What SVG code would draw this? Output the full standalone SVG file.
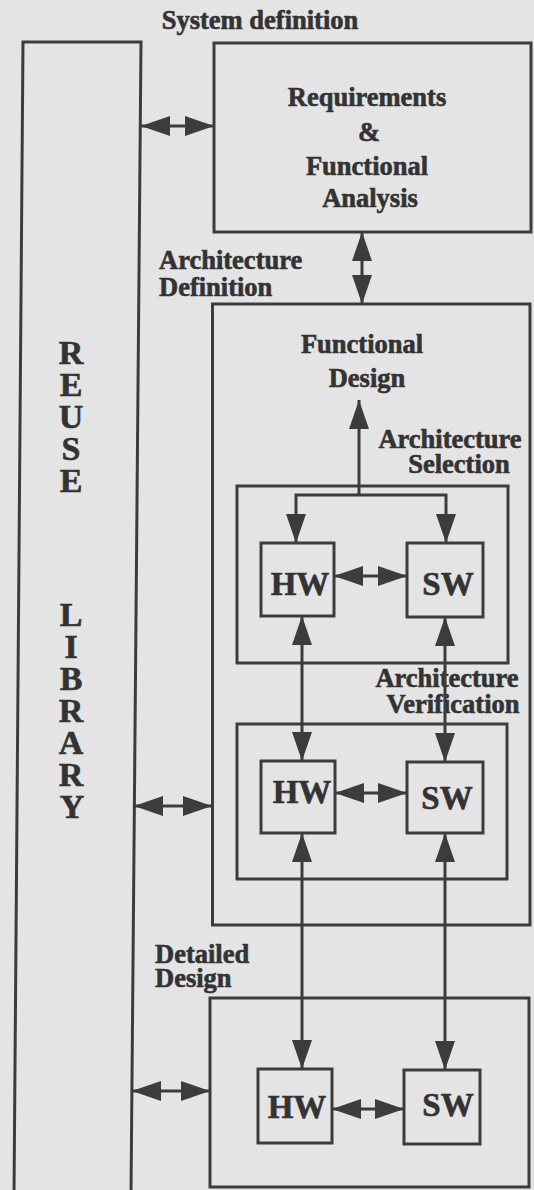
<svg xmlns="http://www.w3.org/2000/svg" width="534" height="1190" viewBox="0 0 534 1190">
<defs>
<style>
.box{fill:none;stroke:#3c3c3c;stroke-width:3}
.t{font-family:"Liberation Serif","Times New Roman",serif;font-weight:bold;fill:#333;stroke:#333;stroke-width:0.6;font-size:26.5px}
.m{text-anchor:middle}
.big{font-size:34px}
.hs{font-size:33px}
.c{fill:none;stroke:#3c3c3c;stroke-width:3}
</style>
<marker id="ah" markerUnits="userSpaceOnUse" markerWidth="30" markerHeight="20" viewBox="0 0 30 20" refX="29" refY="10" orient="auto-start-reverse">
<path d="M0,0 L29,10 L0,20 z" fill="#3c3c3c"/>
</marker>
</defs>
<rect x="0" y="0" width="534" height="1190" fill="#e4e4e4"/>

<text class="t m" x="260" y="29">System definition</text>

<g id="reuse-library">
<path class="box" d="M14,1195 L23,42 L141,42 L131,1195"/>
<text class="t m big" x="71" y="364">R</text>
<text class="t m big" x="71" y="396">E</text>
<text class="t m big" x="71" y="428">U</text>
<text class="t m big" x="71" y="460">S</text>
<text class="t m big" x="71" y="492">E</text>
<text class="t m big" x="71" y="626">L</text>
<text class="t m big" x="71" y="658">I</text>
<text class="t m big" x="71" y="690">B</text>
<text class="t m big" x="71" y="722">R</text>
<text class="t m big" x="71" y="754">A</text>
<text class="t m big" x="71" y="786">R</text>
<text class="t m big" x="72" y="818">Y</text>
</g>

<g id="requirements">
<rect class="box" x="214" y="43" width="317" height="189"/>
<text class="t m" x="367" y="106">Requirements</text>
<text class="t m" x="369" y="141">&amp;</text>
<text class="t m" x="367" y="175">Functional</text>
<text class="t m" x="370" y="207">Analysis</text>
</g>

<g id="label-architecture-definition">
<text class="t" x="159" y="269">Architecture</text>
<text class="t" x="159" y="296">Definition</text>
</g>

<g id="functional-design">
<rect class="box" x="212.5" y="304" width="317.5" height="621"/>
<text class="t m" x="362" y="353">Functional</text>
<text class="t m" x="367" y="387">Design</text>
</g>

<g id="label-architecture-selection">
<text class="t m" x="450" y="448">Architecture</text>
<text class="t m" x="459" y="473">Selection</text>
</g>

<g id="architecture-selection">
<rect class="box" x="237" y="486" width="271" height="177"/>
</g>
<g id="sel-hw">
<rect class="box" x="261" y="543" width="73" height="73"/>
<text class="t m hs" x="300" y="595">HW</text>
</g>
<g id="sel-sw">
<rect class="box" x="407" y="543" width="76" height="74"/>
<text class="t m hs" x="448" y="595">SW</text>
</g>

<g id="label-architecture-verification">
<text class="t m" x="447" y="687">Architecture</text>
<text class="t m" x="453" y="713">Verification</text>
</g>

<g id="architecture-verification">
<rect class="box" x="237" y="724" width="270" height="155"/>
</g>
<g id="ver-hw">
<rect class="box" x="261" y="761" width="74" height="72"/>
<text class="t m hs" x="302" y="803">HW</text>
</g>
<g id="ver-sw">
<rect class="box" x="407" y="762" width="76" height="71"/>
<text class="t m hs" x="447" y="809">SW</text>
</g>

<g id="label-detailed-design">
<text class="t" x="155" y="963">Detailed</text>
<text class="t" x="155" y="987">Design</text>
</g>

<g id="detailed-design">
<rect class="box" x="210" y="998" width="319" height="189"/>
</g>
<g id="det-hw">
<rect class="box" x="258" y="1069" width="74" height="74"/>
<text class="t m hs" x="297" y="1118">HW</text>
</g>
<g id="det-sw">
<rect class="box" x="404" y="1070" width="76" height="74"/>
<text class="t m hs" x="448" y="1116">SW</text>
</g>

<g id="connectors">
<line class="c" x1="141" y1="126" x2="214" y2="126" marker-start="url(#ah)" marker-end="url(#ah)"/>
<line class="c" x1="362" y1="232" x2="362" y2="304" marker-start="url(#ah)" marker-end="url(#ah)"/>
<line class="c" x1="359" y1="495" x2="359" y2="400" marker-end="url(#ah)"/>
<path class="c" d="M296,543 V495 H446 V543" marker-start="url(#ah)" marker-end="url(#ah)"/>
<line class="c" x1="334" y1="576" x2="407" y2="576" marker-start="url(#ah)" marker-end="url(#ah)"/>
<line class="c" x1="302" y1="616" x2="302" y2="761" marker-start="url(#ah)" marker-end="url(#ah)"/>
<line class="c" x1="445" y1="617" x2="445" y2="762" marker-start="url(#ah)" marker-end="url(#ah)"/>
<line class="c" x1="335" y1="793" x2="407" y2="793" marker-start="url(#ah)" marker-end="url(#ah)"/>
<line class="c" x1="134" y1="806" x2="212" y2="806" marker-start="url(#ah)" marker-end="url(#ah)"/>
<line class="c" x1="302" y1="833" x2="302" y2="1069" marker-start="url(#ah)" marker-end="url(#ah)"/>
<line class="c" x1="445" y1="833" x2="445" y2="1070" marker-start="url(#ah)" marker-end="url(#ah)"/>
<line class="c" x1="332" y1="1109" x2="404" y2="1109" marker-start="url(#ah)" marker-end="url(#ah)"/>
<line class="c" x1="132" y1="1091" x2="210" y2="1091" marker-start="url(#ah)" marker-end="url(#ah)"/>
</g>
</svg>
